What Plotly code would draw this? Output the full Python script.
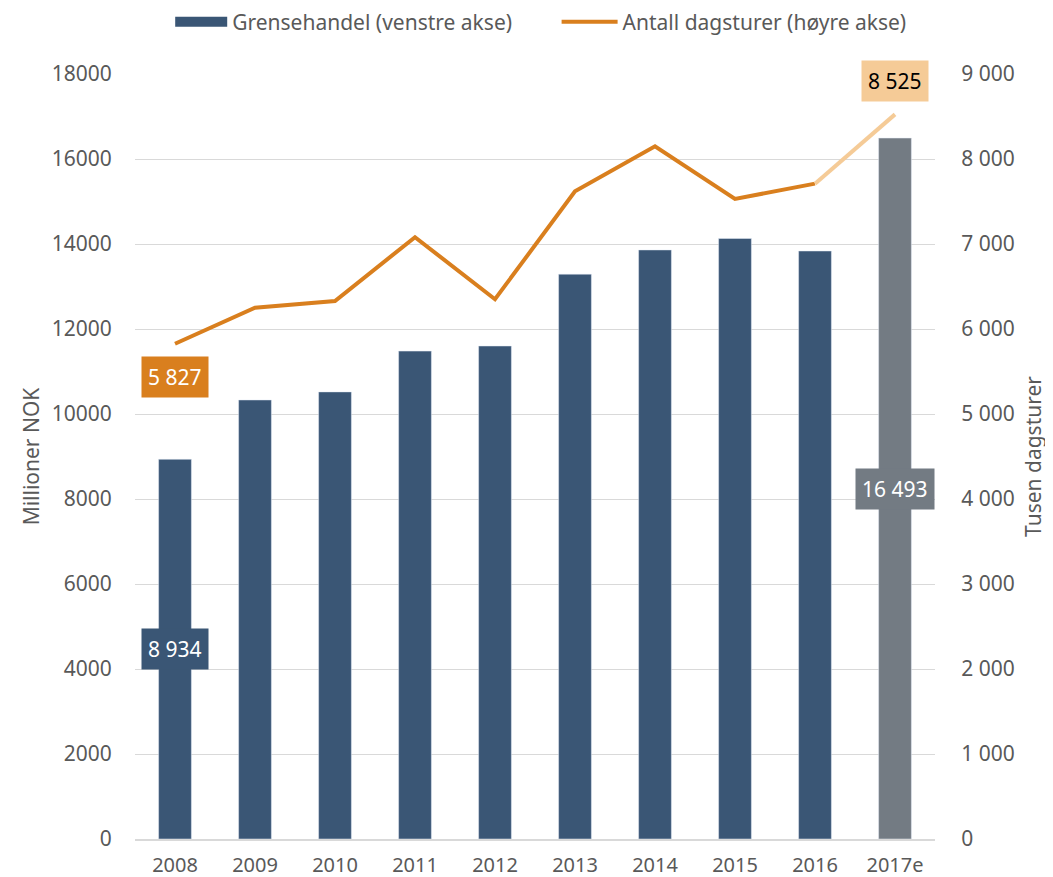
import plotly.graph_objects as go

years = ["2008", "2009", "2010", "2011", "2012", "2013", "2014", "2015", "2016", "2017e"]
grensehandel = [8934, 10330, 10520, 11480, 11600, 13290, 13860, 14130, 13835, 16493]
dagsturer = [5827, 6250, 6330, 7080, 6350, 7620, 8150, 7530, 7710, 8525]

bar_colors = ["#3A5675"] * 9 + ["#737B83"]
line_color = "#D97F1E"
line_est_color = "#F5CB97"
font_family = "Noto Sans"
txt_color = "#595959"

fig = go.Figure()
fig.add_trace(go.Bar(
    x=years, y=grensehandel, name="Grensehandel (venstre akse)",
    marker=dict(color=bar_colors), width=0.41, yaxis="y", showlegend=False,
))
# legend-only entry to mimic the wide rectangle swatch
fig.add_trace(go.Scatter(
    x=[None], y=[None], name="Grensehandel (venstre akse)", mode="lines",
    line=dict(color=bar_colors[0], width=16), yaxis="y", legend="legend",
))
fig.add_trace(go.Scatter(
    x=years[:9], y=dagsturer[:9], name="Antall dagsturer (høyre akse)",
    mode="lines", line=dict(color=line_color, width=4), yaxis="y2", legend="legend2",
))
fig.add_trace(go.Scatter(
    x=years[8:], y=dagsturer[8:], mode="lines", showlegend=False,
    line=dict(color=line_est_color, width=4), yaxis="y2",
))

first = 0
last = len(years) - 1
lab_font = 21
ann = []
ann.append(dict(x=first, y=dagsturer[first], xref="x", yref="y2", yshift=-33,
                text="5 827", showarrow=False, bgcolor=line_color,
                font=dict(color="white", size=lab_font, family=font_family), borderpad=6))
ann.append(dict(x=last, y=dagsturer[last], xref="x", yref="y2", yshift=33,
                text="8 525", showarrow=False, bgcolor=line_est_color,
                font=dict(color="black", size=lab_font, family=font_family), borderpad=6))
ann.append(dict(x=first, y=grensehandel[first] / 2, xref="x", yref="y",
                text="8 934", showarrow=False, bgcolor=bar_colors[first],
                font=dict(color="white", size=lab_font, family=font_family), borderpad=6))
ann.append(dict(x=last, y=grensehandel[last] / 2, xref="x", yref="y",
                text="16 493", showarrow=False, bgcolor=bar_colors[last],
                font=dict(color="white", size=lab_font, family=font_family), borderpad=6))

legend_common = dict(orientation="h", xanchor="left", y=1.068, yanchor="middle",
                     font=dict(size=21, color=txt_color), bgcolor="rgba(0,0,0,0)")

fig.update_layout(
    width=1053, height=877,
    margin=dict(l=127, r=126, t=66, b=46, autoexpand=False),
    paper_bgcolor="white", plot_bgcolor="white",
    font=dict(family=font_family, color=txt_color, size=21),
    separators=", ",
    bargap=0.59,
    showlegend=True,
    legend=dict(x=0.044, itemwidth=52, **legend_common),
    legend2=dict(x=0.527, itemwidth=56, **legend_common),
    xaxis=dict(type="category", range=[-0.5, len(years) - 0.5], showgrid=False,
               showline=True, linecolor="#D9D9D9", linewidth=2,
               ticks="outside", ticklen=7, tickcolor="rgba(0,0,0,0)",
               tickfont=dict(size=20, color=txt_color)),
    yaxis=dict(range=[0, 18000], dtick=2000, tickformat="d", showgrid=True,
               gridcolor="#D9D9D9", gridwidth=1, zeroline=False,
               title=dict(text="Millioner NOK", font=dict(size=21, color=txt_color), standoff=6),
               tickfont=dict(size=21, color=txt_color), ticks="outside", ticklen=18,
               tickcolor="rgba(0,0,0,0)"),
    yaxis2=dict(range=[0, 9000], dtick=1000, tickformat=",d", overlaying="y", side="right",
                showgrid=False, zeroline=False,
                title=dict(text="Tusen dagsturer", font=dict(size=21, color=txt_color), standoff=12),
                tickfont=dict(size=21, color=txt_color), ticks="outside", ticklen=21,
                tickcolor="rgba(0,0,0,0)"),
    annotations=ann,
)

fig.write_html("out.html")
